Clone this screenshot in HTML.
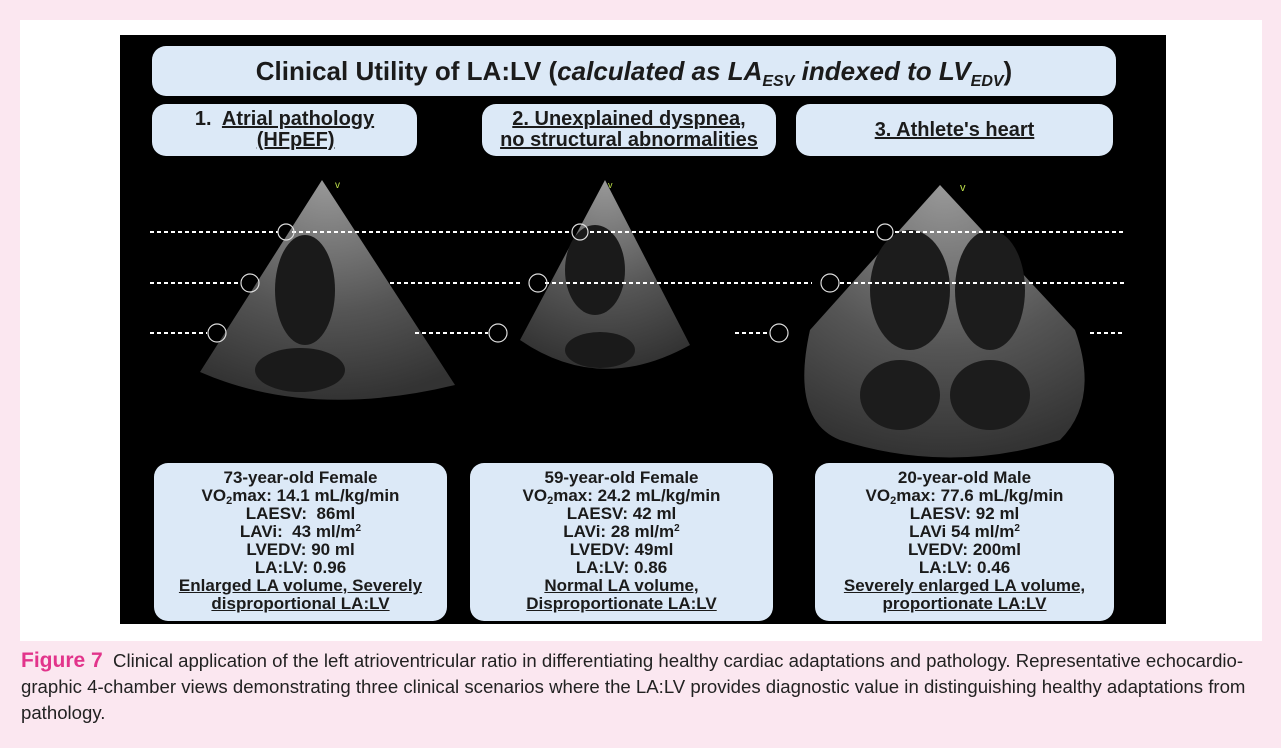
<!DOCTYPE html>
<html><head><style>
body{margin:0;width:1281px;height:748px;background:#fbe7f0;position:relative;overflow:hidden;font-family:"Liberation Sans",Arial,sans-serif}
.white{position:absolute;left:20px;top:20px;width:1242px;height:621px;background:#fff}
.black{position:absolute;left:120px;top:35px;width:1046px;height:589px;background:#000}
.box{position:absolute;background:#dce9f7;border-radius:14px;text-align:center;color:#1b1b1b;font-weight:bold}
.t{font-size:26px;line-height:50px}
.s{font-size:20px;line-height:21px;display:flex;align-items:center;justify-content:center}
.d{font-size:17px;line-height:18px;padding-top:6px}
.sb{font-size:11px;position:relative;top:3px;line-height:0}
.sp{font-size:10px;position:relative;top:-6px;line-height:0}
u{text-decoration:underline}
.cap{position:absolute;left:21px;top:648px;width:1245px;font-size:18.6px;line-height:26px;color:#222;white-space:nowrap}
.cap b{color:#e2348b;font-size:21px}
</style></head><body>
<div class="white"></div>
<div class="black"></div>
<svg style="position:absolute;left:0;top:0" width="1281" height="748">
<defs>
<radialGradient id="g1" cx="0.5" cy="0" r="1"><stop offset="0" stop-color="#999"/><stop offset="0.6" stop-color="#555"/><stop offset="1" stop-color="#333"/></radialGradient>
</defs>
<path d="M322,180 L200,372 Q310,420 455,385 Z" fill="url(#g1)"/>
<ellipse cx="305" cy="290" rx="30" ry="55" fill="#1a1a1a"/><ellipse cx="300" cy="370" rx="45" ry="22" fill="#1a1a1a"/>
<path d="M605,180 L520,340 Q600,395 690,345 Z" fill="url(#g1)"/>
<ellipse cx="595" cy="270" rx="30" ry="45" fill="#1a1a1a"/><ellipse cx="600" cy="350" rx="35" ry="18" fill="#1a1a1a"/>
<path d="M940,185 L810,330 Q790,420 840,440 Q950,475 1060,440 Q1100,400 1075,330 Z" fill="url(#g1)"/>
<ellipse cx="910" cy="290" rx="40" ry="60" fill="#1c1c1c"/><ellipse cx="990" cy="290" rx="35" ry="60" fill="#1c1c1c"/>
<ellipse cx="900" cy="395" rx="40" ry="35" fill="#1c1c1c"/><ellipse cx="990" cy="395" rx="40" ry="35" fill="#1c1c1c"/>
<g stroke="#fff" stroke-width="2" stroke-dasharray="4,3">
<line x1="150" y1="232" x2="278" y2="232"/><line x1="292" y1="232" x2="570" y2="232"/><line x1="590" y1="232" x2="875" y2="232"/><line x1="895" y1="232" x2="1125" y2="232"/>
<line x1="150" y1="283" x2="240" y2="283"/><line x1="390" y1="283" x2="522" y2="283"/><line x1="545" y1="283" x2="812" y2="283"/><line x1="840" y1="283" x2="1125" y2="283"/>
<line x1="150" y1="333" x2="207" y2="333"/><line x1="415" y1="333" x2="488" y2="333"/><line x1="735" y1="333" x2="768" y2="333"/><line x1="1090" y1="333" x2="1125" y2="333"/>
</g>
<g fill="none" stroke="#ddd" stroke-width="1.2">
<circle cx="286" cy="232" r="8"/><circle cx="580" cy="232" r="8"/><circle cx="885" cy="232" r="8"/>
<circle cx="250" cy="283" r="9"/><circle cx="538" cy="283" r="9"/><circle cx="830" cy="283" r="9"/>
<circle cx="217" cy="333" r="9"/><circle cx="498" cy="333" r="9"/><circle cx="779" cy="333" r="9"/>
</g>
<text x="335" y="188" fill="#bde04a" font-size="10">v</text><text x="608" y="188" fill="#bde04a" font-size="9">v</text><text x="960" y="191" fill="#bde04a" font-size="11">v</text>
</svg>
<div class="box t" style="left:152px;top:46px;width:964px;height:50px">Clinical Utility of LA:LV (<i>calculated as LA<span style="font-size:16px;position:relative;top:6px">ESV</span> indexed to LV<span style="font-size:16px;position:relative;top:6px">EDV</span></i>)</div>
<div class="box s" style="left:152px;top:104px;width:265px;height:52px"><div>1.&nbsp; <u>Atrial pathology</u><br>&nbsp;&nbsp;&nbsp;&nbsp;<u>(HFpEF)</u></div></div>
<div class="box s" style="left:482px;top:104px;width:294px;height:52px"><div><u>2. Unexplained dyspnea,</u><br><u>no structural abnormalities</u></div></div>
<div class="box s" style="left:796px;top:104px;width:317px;height:52px"><div><u>3. Athlete's heart</u></div></div>
<div class="box d" style="left:154px;top:463px;width:293px;height:152px">73-year-old Female<br>VO<span class="sb">2</span>max: 14.1 mL/kg/min<br>LAESV:&nbsp; 86ml<br>LAVi:&nbsp; 43 ml/m<span class="sp">2</span><br>LVEDV: 90 ml<br>LA:LV: 0.96<br><u>Enlarged LA volume, Severely </u><br><u>disproportional LA:LV</u></div>
<div class="box d" style="left:470px;top:463px;width:303px;height:152px">59-year-old Female<br>VO<span class="sb">2</span>max: 24.2 mL/kg/min<br>LAESV: 42 ml<br>LAVi: 28 ml/m<span class="sp">2</span><br>LVEDV: 49ml<br>LA:LV: 0.86<br><u>Normal LA volume, </u><br><u>Disproportionate LA:LV</u></div>
<div class="box d" style="left:815px;top:463px;width:299px;height:152px">20-year-old Male<br>VO<span class="sb">2</span>max: 77.6 mL/kg/min<br>LAESV: 92 ml<br>LAVi 54 ml/m<span class="sp">2</span><br>LVEDV: 200ml<br>LA:LV: 0.46<br><u>Severely enlarged LA volume, </u><br><u>proportionate LA:LV</u></div>
<div class="cap"><b>Figure 7</b>&nbsp; Clinical application of the left atrioventricular ratio in differentiating healthy cardiac adaptations and pathology. Representative echocardio-<br>graphic 4-chamber views demonstrating three clinical scenarios where the LA:LV provides diagnostic value in distinguishing healthy adaptations from<br>pathology.</div>
</body></html>
